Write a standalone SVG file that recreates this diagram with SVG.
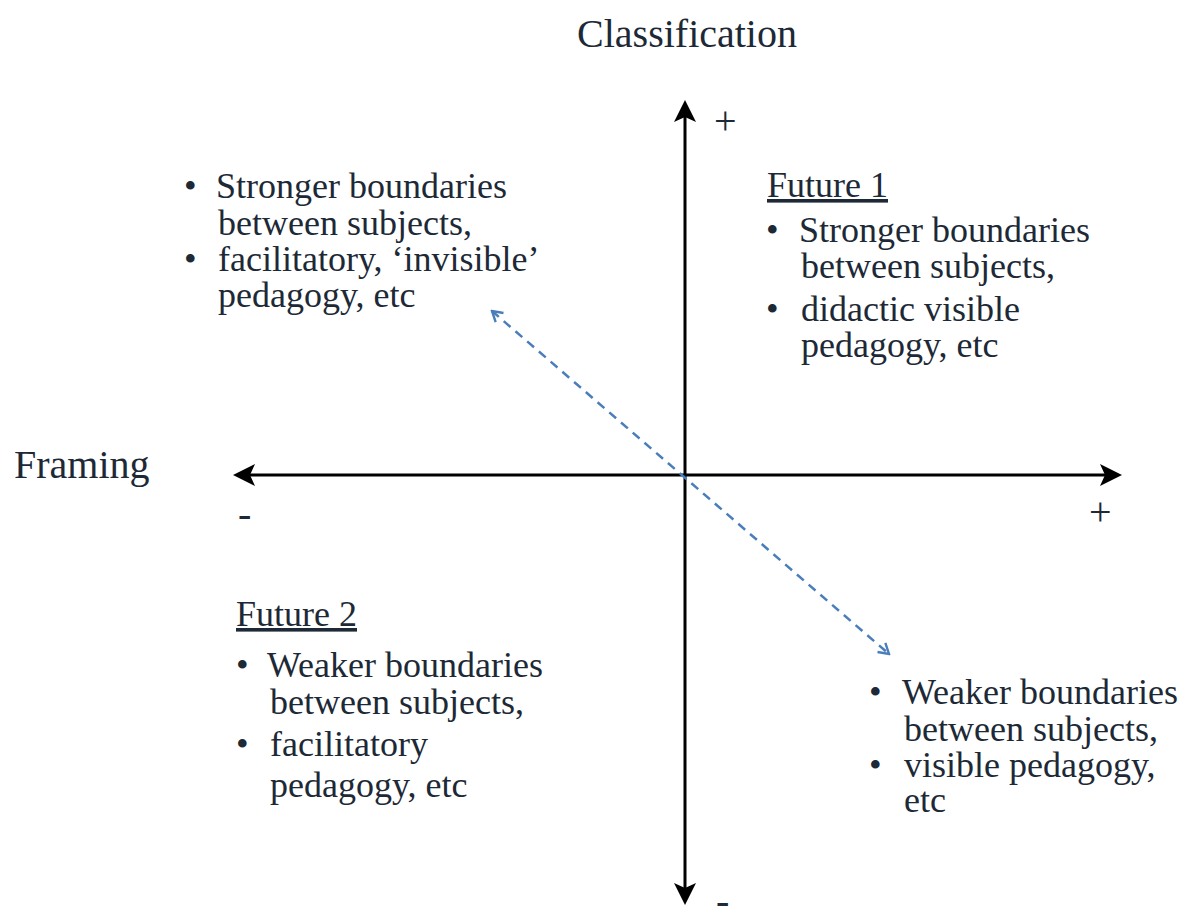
<svg xmlns="http://www.w3.org/2000/svg" width="1184" height="906" viewBox="0 0 1184 906">
  <style>
    text { font-family: "Liberation Serif", "Times New Roman", serif; fill: #1d2936; }
    .title { font-size: 40px; }
    .body { font-size: 36px; }
    .sign { font-size: 40px; }
    .head { text-decoration: underline; }
    .axis { stroke: #000; stroke-width: 3; fill: none; }
    .dash { stroke: #4a7ebb; stroke-width: 2.5; stroke-dasharray: 9 6.5; fill: none; }
  </style>
  <defs>
    <marker id="axisHead" viewBox="-6 -12 24 24" refX="0" refY="0" markerWidth="24" markerHeight="24" markerUnits="userSpaceOnUse" orient="auto-start-reverse">
      <path d="M17,0 L-5,-11 L0,0 L-5,11 Z" fill="#000"/>
    </marker>
    <marker id="openHead" viewBox="-12 -8 14 16" refX="0" refY="0" markerWidth="14" markerHeight="16" markerUnits="userSpaceOnUse" orient="auto-start-reverse">
      <path d="M-10,-6 L0,0 L-10,6" fill="none" stroke="#4a7ebb" stroke-width="2.4"/>
    </marker>
  </defs>

  <rect width="1184" height="906" fill="#fff"/>

  <!-- axes and the diagonal shift -->
  <g id="connectors">
    <line class="axis" x1="685" y1="117" x2="685" y2="888" marker-start="url(#axisHead)" marker-end="url(#axisHead)"/>
    <line class="axis" x1="250" y1="475" x2="1105" y2="475" marker-start="url(#axisHead)" marker-end="url(#axisHead)"/>
    <line class="dash" x1="492" y1="311" x2="889" y2="654" marker-start="url(#openHead)" marker-end="url(#openHead)"/>
  </g>

  <!-- axis titles and signs -->
  <g id="axis-classification">
    <text class="title" x="687" y="47" text-anchor="middle">Classification</text>
    <text class="sign" x="714" y="134">+</text>
    <text class="sign" x="716" y="914">-</text>
  </g>
  <g id="axis-framing">
    <text class="title" x="14" y="478">Framing</text>
    <text class="sign" x="238" y="527">-</text>
    <text class="sign" x="1089" y="525">+</text>
  </g>

  <!-- upper-left quadrant -->
  <g id="quadrant-upper-left">
    <text class="body" x="184" y="198">•</text>
    <text class="body" x="216" y="198">Stronger boundaries</text>
    <text class="body" x="218" y="235">between subjects,</text>
    <text class="body" x="184" y="271">•</text>
    <text class="body" x="218" y="271">facilitatory, ‘invisible’</text>
    <text class="body" x="218" y="307">pedagogy, etc</text>
  </g>

  <!-- upper-right quadrant -->
  <g id="quadrant-future-1">
    <text class="body head" x="767" y="197">Future 1</text>
    <text class="body" x="766" y="242">•</text>
    <text class="body" x="799" y="242">Stronger boundaries</text>
    <text class="body" x="801" y="278">between subjects,</text>
    <text class="body" x="766" y="321">•</text>
    <text class="body" x="801" y="321">didactic visible</text>
    <text class="body" x="801" y="357">pedagogy, etc</text>
  </g>

  <!-- lower-left quadrant -->
  <g id="quadrant-future-2">
    <text class="body head" x="236" y="626">Future 2</text>
    <text class="body" x="236" y="677">•</text>
    <text class="body" x="267" y="677">Weaker boundaries</text>
    <text class="body" x="270" y="714">between subjects,</text>
    <text class="body" x="236" y="756">•</text>
    <text class="body" x="270" y="756">facilitatory</text>
    <text class="body" x="270" y="797">pedagogy, etc</text>
  </g>

  <!-- lower-right quadrant -->
  <g id="quadrant-lower-right">
    <text class="body" x="869" y="704">•</text>
    <text class="body" x="902" y="704">Weaker boundaries</text>
    <text class="body" x="904" y="741">between subjects,</text>
    <text class="body" x="869" y="777">•</text>
    <text class="body" x="904" y="777">visible pedagogy,</text>
    <text class="body" x="904" y="812">etc</text>
  </g>
</svg>
